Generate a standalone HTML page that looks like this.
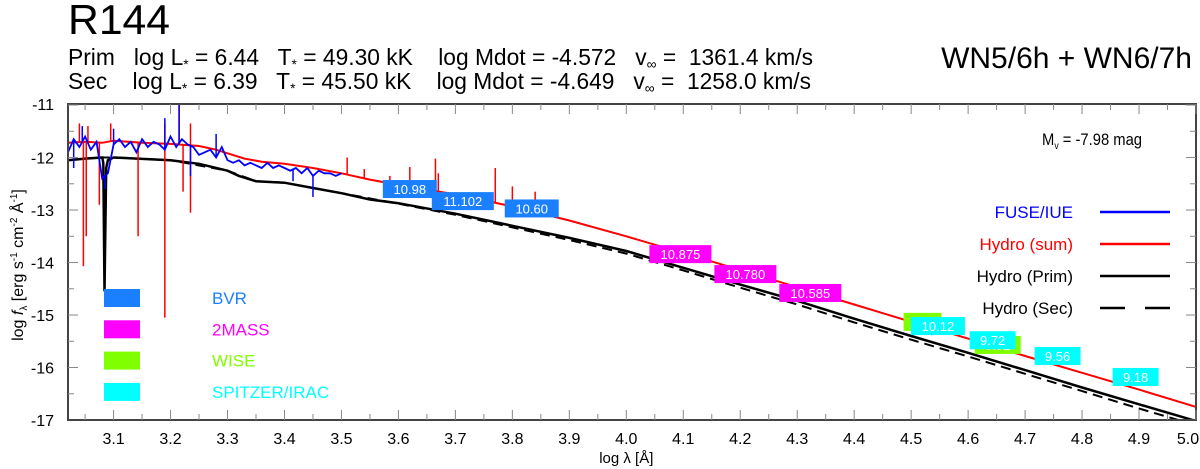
<!DOCTYPE html>
<html><head><meta charset="utf-8"><style>
html,body{margin:0;padding:0;background:#fff;}
svg{display:block;font-family:"Liberation Sans",sans-serif;}
</style></head><body>
<svg id="chart" width="1200" height="469" viewBox="0 0 1200 469" xmlns="http://www.w3.org/2000/svg">
<text x="68" y="34" font-size="42" textLength="102" lengthAdjust="spacingAndGlyphs">R144</text>
<text x="68" y="65" font-size="23" textLength="745" lengthAdjust="spacingAndGlyphs" xml:space="preserve">Prim   log L<tspan font-size="14" dy="4">*</tspan><tspan dy="-4"> = 6.44   T</tspan><tspan font-size="14" dy="4">*</tspan><tspan dy="-4"> = 49.30 kK    log Mdot = -4.572   v</tspan><tspan font-size="14" dy="4">∞</tspan><tspan dy="-4"> =  1361.4 km/s</tspan></text>
<text x="68" y="89" font-size="23" textLength="743" lengthAdjust="spacingAndGlyphs" xml:space="preserve">Sec    log L<tspan font-size="14" dy="4">*</tspan><tspan dy="-4"> = 6.39   T</tspan><tspan font-size="14" dy="4">*</tspan><tspan dy="-4"> = 45.50 kK    log Mdot = -4.649   v</tspan><tspan font-size="14" dy="4">∞</tspan><tspan dy="-4"> =  1258.0 km/s</tspan></text>
<text x="1192" y="68" font-size="30" text-anchor="end">WN5/6h + WN6/7h</text>
<g id="plot"></g>
</svg>
<script>
const xTicks=[3.1,3.2,3.3,3.4,3.5,3.6,3.7,3.8,3.9,4.0,4.1,4.2,4.3,4.4,4.5,4.6,4.7,4.8,4.9,5.0];
const xTickLabels=["3.1","3.2","3.3","3.4","3.5","3.6","3.7","3.8","3.9","4.0","4.1","4.2","4.3","4.4","4.5","4.6","4.7","4.8","4.9","5.0"];
const yTicks=[-11,-12,-13,-14,-15,-16,-17];
const yTickLabels=["-11","-12","-13","-14","-15","-16","-17"];
const sumX=[3.02,3.05,3.08,3.1,3.15,3.2,3.25,3.28,3.3,3.33,3.36,3.4,3.45,3.5,3.55,3.6,3.7,3.8,3.9,4.0,4.1,4.2,4.3,4.4,4.5,4.6,4.7,4.8,4.9,5.0];
const sumY=[-11.72,-11.7,-11.72,-11.68,-11.72,-11.74,-11.78,-11.85,-11.92,-12.02,-12.08,-12.12,-12.2,-12.3,-12.42,-12.52,-12.7,-12.93,-13.2,-13.5,-13.82,-14.14,-14.47,-14.8,-15.13,-15.45,-15.78,-16.1,-16.42,-16.75];
const sumSpikeX=[3.04,3.047,3.052,3.055,3.075,3.095,3.143,3.19,3.19,3.215,3.222,3.235,3.235,3.51,3.54,3.585,3.62,3.665,3.67,3.77,3.8,3.84];
const sumSpikeY=[-11.35,-14.07,-13.5,-11.4,-12.9,-11.35,-13.5,-15.05,-11.35,-11.0,-12.65,-13.05,-11.35,-12.0,-12.22,-12.35,-12.18,-12.02,-12.3,-12.2,-12.55,-12.65];
const obsX=[3.02,3.03,3.04,3.05,3.06,3.07,3.08,3.09,3.10,3.11,3.12,3.13,3.14,3.15,3.16,3.17,3.18,3.19,3.20,3.21,3.22,3.23,3.24,3.25,3.26,3.27,3.28,3.29,3.30,3.31,3.32,3.33,3.34,3.35,3.36,3.37,3.38,3.39,3.40,3.41,3.42,3.43,3.44,3.45,3.46,3.47,3.48,3.49,3.50];
const obsY=[-11.9,-11.65,-11.8,-11.6,-11.85,-11.7,-12.4,-12.3,-11.75,-11.65,-11.8,-11.7,-11.9,-11.65,-11.8,-11.7,-11.75,-11.85,-11.6,-11.8,-11.65,-11.75,-11.8,-11.95,-11.9,-11.85,-12.0,-11.8,-12.05,-12.1,-12.05,-12.15,-12.1,-12.15,-12.2,-12.1,-12.2,-12.15,-12.2,-12.25,-12.2,-12.3,-12.2,-12.35,-12.25,-12.3,-12.3,-12.35,-12.3];
const obsSpikeX=[3.03,3.045,3.085,3.1,3.19,3.215,3.235,3.28,3.415,3.45];
const obsSpikeY=[-12.2,-11.4,-12.6,-11.45,-11.25,-10.95,-12.35,-11.55,-12.45,-12.75];
const primX=[3.02,3.05,3.08,3.082,3.084,3.087,3.09,3.1,3.2,3.25,3.3,3.32,3.35,3.4,3.45,3.5,3.55,3.6,3.7,3.8,3.9,4.0,4.1,4.2,4.3,4.4,4.5,4.6,4.7,4.8,4.9,5.0];
const primY=[-12.05,-12.02,-12.0,-12.1,-14.55,-12.2,-12.05,-12.0,-12.05,-12.12,-12.25,-12.35,-12.45,-12.48,-12.58,-12.68,-12.8,-12.87,-13.07,-13.3,-13.53,-13.78,-14.1,-14.42,-14.73,-15.07,-15.4,-15.72,-16.05,-16.38,-16.7,-17.02];
const secX=[3.02,3.05,3.08,3.1,3.2,3.3,3.35,3.4,3.5,3.6,3.7,3.8,3.9,4.0,4.1,4.2,4.3,4.4,4.5,4.6,4.7,4.8,4.9,5.0];
const secY=[-12.05,-12.02,-12.0,-12.0,-12.05,-12.25,-12.45,-12.48,-12.68,-12.88,-13.09,-13.33,-13.57,-13.83,-14.15,-14.48,-14.8,-15.14,-15.47,-15.79,-16.12,-16.45,-16.78,-17.1];
const photX=[3.62,3.713,3.834,4.095,4.209,4.323,4.52,4.652,4.547,4.643,4.757,4.894];
const photY=[-12.6,-12.83,-12.97,-13.84,-14.22,-14.58,-15.13,-15.57,-15.21,-15.48,-15.78,-16.18];
const photLabel=["10.98","11.102","10.60","10.875","10.780","10.585","10.","9.92","10.12","9.72","9.56","9.18"];
const photBand=[0,0,0,1,1,1,2,2,3,3,3,3];
const bandNames=["BVR","2MASS","WISE","SPITZER/IRAC"];
const bandColors=["#1a80ff","#ff00ff","#80ff00","#00ffff"];

const L=68,R=1196,T=104,B=420,XMIN=3.02,XMAX=5.0,YMAX=-10.98,YMIN=-17;
const sx=v=>L+(v-XMIN)/(XMAX-XMIN)*(R-L);
const sy=v=>T+(YMAX-v)/(YMAX-YMIN)*(B-T);
const NS="http://www.w3.org/2000/svg";
const g=document.getElementById('plot');
function mk(tag,attrs,parent){const e=document.createElementNS(NS,tag);for(const k in attrs)e.setAttribute(k,attrs[k]);(parent||g).appendChild(e);return e;}
const clip=mk('clipPath',{id:'pc'});mk('rect',{x:L,y:T,width:R-L,height:B-T},clip);
const data=mk('g',{'clip-path':'url(#pc)'});
function interp(xs,ys,x){for(let i=1;i<xs.length;i++){if(x<=xs[i]){const t=(x-xs[i-1])/(xs[i]-xs[i-1]);return ys[i-1]+t*(ys[i]-ys[i-1]);}}return ys[ys.length-1];}
function pts(xs,ys){return xs.map((x,i)=>sx(x).toFixed(1)+','+sy(ys[i]).toFixed(1)).join(' ');}
let e=mk('polyline',{points:pts(secX,secY),fill:'none',stroke:'#000','stroke-width':2,'stroke-dasharray':'10,6'},data);


e=mk('polyline',{points:pts(primX,primY),fill:'none',stroke:'#000','stroke-width':2.5},data);


e=mk('polyline',{points:pts(sumX,sumY),fill:'none',stroke:'#ff0000','stroke-width':2},data);


sumSpikeX.forEach((x,i)=>{const s=mk('line',{x1:sx(x),x2:sx(x),y1:sy(interp(sumX,sumY,x)),y2:sy(sumSpikeY[i]),stroke:'#ff0000','stroke-width':1.5},data);

});
e=mk('polyline',{points:pts(obsX,obsY),fill:'none',stroke:'#0000ff','stroke-width':1.8},data);


obsSpikeX.forEach((x,i)=>{const s=mk('line',{x1:sx(x),x2:sx(x),y1:sy(interp(obsX,obsY,x)),y2:sy(obsSpikeY[i]),stroke:'#0000ff','stroke-width':1.5},data);

});
photX.forEach((x,i)=>{const cx=sx(x),cy=sy(photY[i]);const lab=photLabel[i];const w=lab.length*8+14;
const r=mk('rect',{x:cx-w/2,y:cy-9,width:w,height:18,fill:bandColors[photBand[i]]});


const t=mk('text',{x:cx,y:cy+5,'font-size':13,fill:'#fff','text-anchor':'middle'});t.textContent=lab;

});
e=mk('rect',{x:L,y:T,width:R-L,height:B-T,fill:'none',stroke:'#444','stroke-width':2});


for(let v=3.05;v<=5.0001;v+=0.05){const x=sx(v);const major=Math.abs(v*10-Math.round(v*10))<1e-6;const len=major?10:6;
mk('line',{x1:x,x2:x,y1:B,y2:B-len,stroke:'#888','stroke-width':1});mk('line',{x1:x,x2:x,y1:T,y2:T+len,stroke:'#888','stroke-width':1});}
for(let v=-16.5;v<=-11;v+=0.5){const y=sy(v);const len=Number.isInteger(v)?10:6;
mk('line',{x1:L,x2:L+len,y1:y,y2:y,stroke:'#888','stroke-width':1});mk('line',{x1:R,x2:R-len,y1:y,y2:y,stroke:'#888','stroke-width':1});}
xTicks.forEach((v,i)=>{const t=mk('text',{x:sx(v)-(i==xTicks.length-1?8:0),y:444,'font-size':16,'text-anchor':'middle'});t.textContent=xTickLabels[i];

});
yTicks.forEach((v,i)=>{const t=mk('text',{x:54,y:sy(v)+(i==0?5:6),'font-size':16,'text-anchor':'end'});t.textContent=yTickLabels[i];

});
let t=mk('text',{x:sx(4.0),y:463,'font-size':15,'text-anchor':'middle'});t.textContent='log λ [Å]';


t=mk('text',{x:0,y:0,'font-size':16,'text-anchor':'middle',transform:'translate(23,265) rotate(-90)'});
t.innerHTML='log <tspan font-style="italic">f</tspan><tspan font-size="10" dy="4">λ</tspan><tspan dy="-4"> [erg s</tspan><tspan font-size="10" dy="-6">-1</tspan><tspan dy="6"> cm</tspan><tspan font-size="10" dy="-6">-2</tspan><tspan dy="6"> Å</tspan><tspan font-size="10" dy="-6">-1</tspan><tspan dy="6">]</tspan>';


t=mk('text',{x:1042,y:145,'font-size':17,textLength:100,lengthAdjust:'spacingAndGlyphs'});
t.innerHTML='M<tspan font-size="10" dy="4">v</tspan><tspan dy="-4"> = -7.98 mag</tspan>';


bandNames.forEach((n,i)=>{const y=298+i*31.3;
const r=mk('rect',{x:104,y:y-9,width:36,height:18,fill:bandColors[i]});


const tt=mk('text',{x:212,y:y+6,'font-size':17,fill:bandColors[i]});tt.textContent=n;

});
const legNames=["FUSE/IUE","Hydro (sum)","Hydro (Prim)","Hydro (Sec)"];
const legColors=["#0000ff","#ff0000","#000","#000"];
legNames.forEach((n,i)=>{const y=212+i*32;
const tt=mk('text',{x:1073,y:y+6,'font-size':17,fill:legColors[i],'text-anchor':'end'});tt.textContent=n;


const l=mk('line',{x1:1100,x2:1170,y1:y,y2:y,stroke:legColors[i],'stroke-width':2.5});
if(i==3)l.setAttribute('stroke-dasharray','25,20');

});
</script>
</body></html>
